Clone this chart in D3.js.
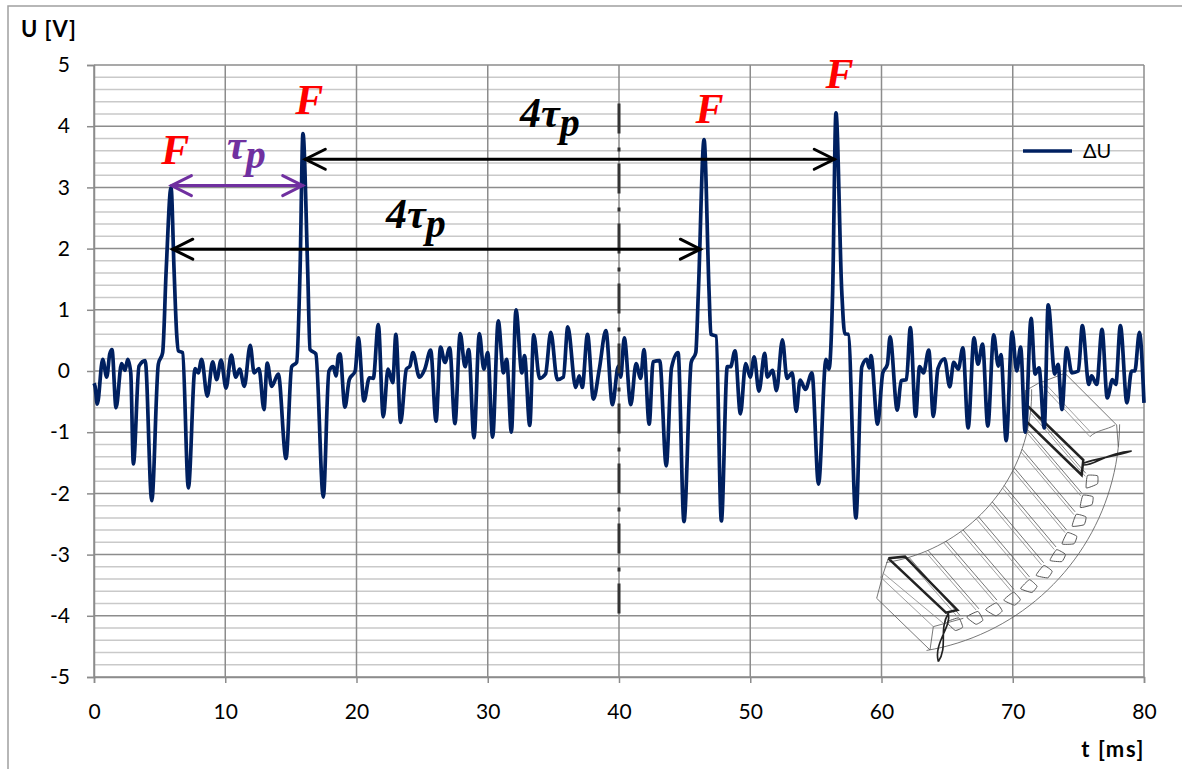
<!DOCTYPE html>
<html>
<head>
<meta charset="utf-8">
<script src="https://cdn.jsdelivr.net/npm/d3@7"></script>
<style>
html, body { margin: 0; padding: 0; background: #fff; overflow: hidden; }
svg { display: block; }
text { font-family: Lato, "Open Sans", sans-serif; fill: #000; }
.serif { font-family: "Liberation Serif", serif; font-weight: bold; font-style: italic; }
</style>
</head>
<body>
<svg id="chart" width="1182" height="769"></svg>
<script>
const xTicks = [0, 10, 20, 30, 40, 50, 60, 70, 80];
const yTicks = [5, 4, 3, 2, 1, 0, -1, -2, -3, -4, -5];

// time [ms] / voltage [V]
const timeA = [0,.08,.25,.66,.97,1.2,1.37,1.68,2.1,2.36,2.57,2.8,3,3.43,3.9,4.4,4.9,5.23,5.5,5.87,6.1,6.3,6.43,6.75,7.19,7.7,7.94,8.2,8.63,9.04,9.35,9.68,10.06,10.46,10.8,11.1,11.45,11.9,12.2,12.57,12.95,13.2,13.54,14.04,14.63,15.06,15.44,15.7,15.92,16.28,16.46,16.9,17.47,17.9,18.23,18.44,18.62,18.74,19.12,19.45,19.9];
const voltA = [-.2,-.25,-.54,.19,-.1,.28,.35,-.6,.12,.01,.19,-.03,-1.52,.08,.17,-2.12,.11,.3,1.65,3,1.65,.6,.33,.3,-1.91,.04,-.03,.19,-.41,.15,-.14,.18,-.28,.26,-.1,.03,-.25,.42,-.03,.04,-.63,.13,-.25,-.05,-1.43,.07,.14,1.65,3.88,1.65,.35,.28,-2.06,0,.07,-.08,.25,.28,-.59,-.14,0];
const timeB = [20.14,20.57,20.98,21.28,21.66,22.04,22.4,22.76,23,23.36,23.8,24.07,24.3,24.79,25.2,25.65,26.06,26.4,26.74,27.1,27.5,27.9,28.27,28.55,28.95,29.36,29.7,30,30.37,30.8,31.2,31.44,31.8,32.15,32.6,32.8,33.2,33.5,33.95,34.4,34.8,35.3,35.76,36.1,36.7,36.97,37.2,37.6,38.05,38.5,39,39.5,39.95];
const voltB = [.54,-.49,-.11,-.12,.76,-.75,.03,-.19,.6,-.84,.03,.08,.3,-.1,.03,.34,-.82,.39,.14,.38,-.86,.61,.07,.35,-1.09,.61,.03,.3,-1.08,.82,-.03,.19,-1,1,-.03,.25,-.89,.59,-.12,-.05,.63,-.14,-.1,.72,-.27,-.08,-.27,.6,-.46,.03,.66,-.55,.08];
const timeC = [40.13,40.4,40.9,41.3,41.65,41.9,42.3,42.6,43.1,43.6,44,44.5,44.95,45.5,45.85,46.05,46.48,46.86,47,47.4,47.8,48.25,48.5,48.84,49.25,49.65,50,50.3,50.66,51.1,51.3,51.7,52,52.45,52.8,53.2,53.5,53.8,54.2,54.7,55.2,55.77,56,56.28,56.53,56.97,57.2,57.47,58.05,58.5,58.87,59.07,59.2];
const voltC = [-.1,.54,-.55,.12,-.12,.35,-.87,.15,.17,-1.55,.05,.3,-2.46,.14,.3,1.31,3.78,1.31,.6,.57,-2.45,.07,.07,.33,-.7,.12,-.1,.23,-.33,.29,-.1,.01,-.32,.51,-.12,-.03,-.66,-.15,-.3,-.03,-1.85,.19,.03,1.31,4.22,1.31,.61,.6,-2.4,.07,.19,.05,.25];
const timeD = [59.7,60.1,60.45,60.65,61.2,61.5,61.9,62.2,62.6,62.9,63.2,63.6,63.95,64.3,64.8,65.2,65.5,65.85,66.2,66.6,67.05,67.35,67.7,68.1,68.55,68.9,69.1,69.5,69.95,70.3,70.6,70.95,71.4,71.7,72,72.4,72.7,73.2,73.45,73.75,74.1,74.5,75,75.3,75.8,76,76.4,76.8,77.2,77.6,77.85,78.2,78.7,79.05,79.3,79.65,80];
const voltD = [-.87,-.03,.11,.56,-.64,-.16,-.14,.71,-.74,.07,-.03,.34,-.74,.04,.2,-.26,.14,.03,.38,-.93,.54,.11,.44,-.9,.59,.08,.27,-1.14,.64,0,.39,-1,.86,-.05,.05,-.93,1.08,-.05,.11,-.63,.38,-.03,0,.74,-.22,-.08,-.22,.68,-.44,-.14,-.22,.74,-.52,0,0,.63,-.52];

const times = [...timeA, ...timeB, ...timeC, ...timeD];
const volts = [...voltA, ...voltB, ...voltC, ...voltD];

// annotations, in chart units
const peakNames = ['F', 'F', 'F', 'F'];
const peakTimes = [6.2, 16.4, 46.9, 56.8];
const peakLevels = [3.38, 4.2, 4.05, 4.62];

const svg = d3.select('#chart');
const x = d3.scaleLinear().domain([0, 80]).range([94, 1144]);
const y = d3.scaleLinear().domain([-5, 5]).range([677, 65]);

// outer frame, runs off the page on the right and bottom
svg.append('rect')
  .attr('x', 8).attr('y', 6).attr('width', 1300).attr('height', 900)
  .attr('fill', '#fff').attr('stroke', '#a0a0a0').attr('stroke-width', 1.5);

// minor grid every 0.2 V
svg.append('g').selectAll('line')
  .data(d3.range(-25, 26).filter(d => d % 5 !== 0).map(d => d / 5))
  .join('line')
    .attr('x1', x(0)).attr('x2', x(80))
    .attr('y1', d => y(d)).attr('y2', d => y(d))
    .attr('stroke', '#c9c9c9').attr('stroke-width', 1.5);

svg.append('g').selectAll('line')
  .data(yTicks)
  .join('line')
    .attr('x1', x(0)).attr('x2', x(80))
    .attr('y1', d => y(d)).attr('y2', d => y(d))
    .attr('stroke', '#8c8c8c').attr('stroke-width', 1.5);

svg.append('g').selectAll('line')
  .data(xTicks)
  .join('line')
    .attr('x1', d => x(d)).attr('x2', d => x(d))
    .attr('y1', y(5)).attr('y2', y(-5))
    .attr('stroke', '#8c8c8c').attr('stroke-width', 1.5);

// axes
const xAxis = svg.append('g')
  .attr('transform', 'translate(0,' + y(-5) + ')')
  .call(d3.axisBottom(x).tickValues(xTicks).tickSize(6).tickPadding(21));
const yAxis = svg.append('g')
  .attr('transform', 'translate(' + x(0) + ',0)')
  .call(d3.axisLeft(y).tickValues(yTicks).tickSize(7).tickPadding(17).tickFormat(d => String(d)));
[xAxis, yAxis].forEach(a => {
  a.selectAll('path, line').attr('stroke', '#8c8c8c').attr('stroke-width', 1.5);
  a.selectAll('text').attr('font-size', 21).attr('font-family', 'Lato').attr('fill', '#000');
});

svg.append('text').attr('x', 21).attr('y', 37)
  .attr('font-size', 22).attr('font-weight', 'bold').attr('letter-spacing', 0.9).text('U [V]');
svg.append('text').attr('x', 1145).attr('y', 757).attr('text-anchor', 'end')
  .attr('font-size', 22).attr('font-weight', 'bold').attr('letter-spacing', 1.6).text('t [ms]');

// stator sketch, generated from two fitted arcs (units: 3x crop, moved into place)
const sketch = svg.append('g').attr('transform', 'translate(870,290) scale(0.3333)')
  .attr('fill', 'none').attr('stroke', '#555').attr('stroke-width', 2.4);
const rad = d => d * Math.PI / 180;
const backPt = (a, r = 517) => [-32 + r * Math.cos(rad(a)), 307 + r * Math.sin(rad(a))];
const frontPt = (a, r = 530) => [124 + r * Math.cos(rad(a)), 467 + r * Math.sin(rad(a))];
const outerPt = a => [55 + 694 * Math.cos(rad(a)), 397 + 694 * Math.sin(rad(a))];
const path = d3.line();

sketch.append('path').attr('d', path(d3.range(0.5, 81, 2).map(a => outerPt(a))));
sketch.append('path').attr('d', path(d3.range(-1, 81.5, 2).map(a => backPt(a))));
// yoke ends
sketch.append('path').attr('d', 'M470,300L505,280L585,250L740,405L745,470');
sketch.append('path').attr('d', 'M660,440C680,420 710,420 735,405');
sketch.append('path').attr('d', 'M510,280L660,440M520,275L665,430').attr('stroke', '#888');
sketch.append('path').attr('d', 'M55,805L40,850L20,925L180,1080L190,1010L280,985');
sketch.append('path').attr('d', 'M40,850L220,1000M30,860L190,1010').attr('stroke', '#888');

d3.range(11).forEach(k => {
  const aBack = 5.75 + k * 6.75;
  const aFront = 9 + k * 6.5;
  const b = backPt(aBack), f = frontPt(aFront);
  sketch.append('path').attr('d', path([b, f]));
  const b2 = backPt(aBack + 1), f2 = frontPt(aFront + 1);
  sketch.append('path').attr('d', path([b2, f2])).attr('stroke', '#888');
  // slot opening on the front face
  const s = [frontPt(aFront + .6, 536), frontPt(aFront + .2, 566), frontPt(aFront + 2.6, 570), frontPt(aFront + 4.6, 540)];
  sketch.append('path')
    .attr('d', d3.line().curve(d3.curveCardinalClosed.tension(0.6))(s))
    .attr('stroke-width', 3);
});

// the two coil sides
const coil = sketch.append('g').attr('stroke', '#222').attr('stroke-width', 7.5);
coil.append('path').attr('d', 'M470,345L640,510L635,555L470,395L470,300');
coil.append('path').attr('d', 'M55,805L105,800L262,960L228,968L55,805');
coil.append('path').attr('d', 'M640,525C680,525 700,490 785,483M640,520C680,505 730,500 785,483').attr('stroke-width', 5);
coil.append('path').attr('d', 'M235,970C245,1010 190,1060 205,1115M235,970C205,1020 235,1070 205,1115').attr('stroke-width', 5);

// series
const line = d3.line()
  .x(i => x(times[i]))
  .y(i => y(volts[i]))
  .curve(d3.curveMonotoneX);
svg.append('path')
  .attr('d', line(d3.range(times.length)))
  .attr('fill', 'none')
  .attr('stroke', '#002060')
  .attr('stroke-width', 3.7)
  .attr('stroke-linejoin', 'round');

// centre line
svg.append('line')
  .attr('x1', x(40)).attr('x2', x(40))
  .attr('y1', y(4.37)).attr('y2', y(-4))
  .attr('stroke', '#333').attr('stroke-width', 3)
  .attr('stroke-dasharray', '30 14 4 12');

// arrows
function arrow(t0, t1, level, color, width) {
  const g = svg.append('g').attr('fill', 'none').attr('stroke', color)
    .attr('stroke-width', width).attr('stroke-linecap', 'round').attr('stroke-linejoin', 'miter');
  const x0 = x(t0), x1 = x(t1), yy = y(level);
  g.append('path').attr('d', `M${x0},${yy}H${x1}`);
  g.append('path').attr('d', `M${x0 + 20},${yy - 10}L${x0},${yy}L${x0 + 20},${yy + 10}`);
  g.append('path').attr('d', `M${x1 - 20},${yy - 10}L${x1},${yy}L${x1 - 20},${yy + 10}`);
}
arrow(5.9, 15.9, 3.03, '#7030a0', 3);
arrow(6, 46.2, 1.99, '#000', 3);
arrow(16.1, 56.4, 3.46, '#000', 3);

// peak labels
svg.append('g').selectAll('text')
  .data(peakNames)
  .join('text')
    .attr('class', 'serif')
    .attr('x', (d, i) => x(peakTimes[i]))
    .attr('y', (d, i) => y(peakLevels[i]))
    .attr('text-anchor', 'middle')
    .attr('font-size', 42)
    .style('fill', '#ff0000')
    .text(d => d);

function tauLabel(px, py, color, prefix) {
  const t = svg.append('text').attr('class', 'serif').attr('x', px).attr('y', py)
    .attr('font-size', 42).style('fill', color);
  t.append('tspan').text(prefix + 'τ');
  t.append('tspan').attr('dy', 9).attr('font-size', 40).text('p');
}
tauLabel(227, 159, '#7030a0', '');
tauLabel(520, 127, '#000', '4');
tauLabel(386, 228, '#000', '4');

// legend
svg.append('line').attr('x1', 1023).attr('x2', 1072).attr('y1', 151).attr('y2', 151)
  .attr('stroke', '#002060').attr('stroke-width', 3.7);
svg.append('text').attr('x', 1083).attr('y', 158).attr('font-size', 20).text('ΔU');
</script>
</body>
</html>
